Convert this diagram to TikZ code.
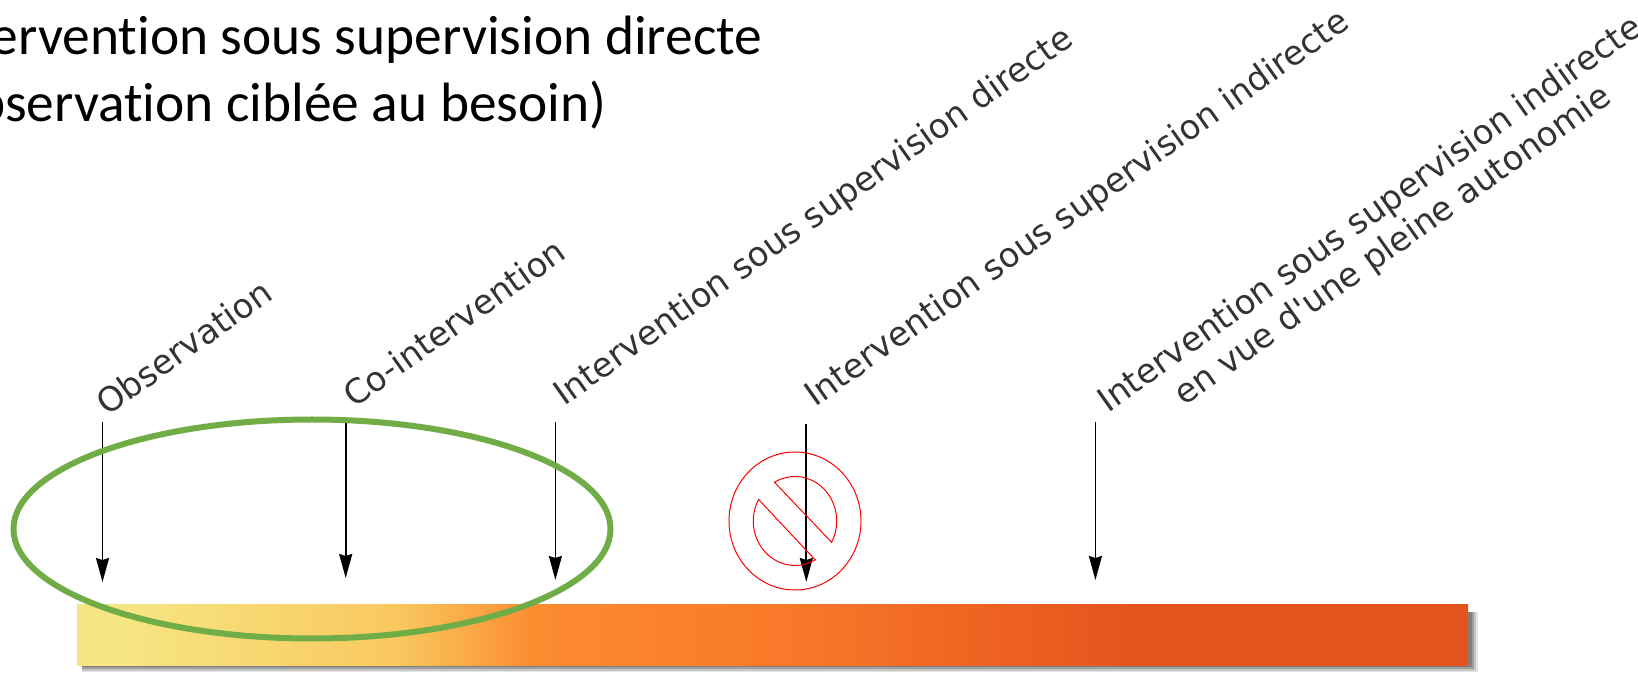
\documentclass[tikz,border=0pt]{standalone}
\usepackage{fontspec}
\setmainfont[Ligatures=NoCommon]{Carlito}
\newfontfamily\labelfont{DejaVu Sans}
\usetikzlibrary{arrows.meta,shapes.geometric}
\definecolor{c0}{HTML}{F6E683}
\definecolor{c1}{HTML}{F9C85F}
\definecolor{c2}{HTML}{FC8B30}
\definecolor{c3}{HTML}{F97A2A}
\definecolor{c4}{HTML}{E5531C}
\definecolor{ringgreen}{HTML}{70AD47}
\pgfdeclarehorizontalshading{barshade}{100bp}{color(0bp)=(c0);color(25bp)=(c0);color(26.5bp)=(c0);color(36.5bp)=(c1);color(41.5bp)=(c2);color(50bp)=(c3);color(63bp)=(c4);color(75bp)=(c4);color(100bp)=(c4)}
\tikzset{
  steplabel/.style={font=\labelfont\fontsize{33.8}{38.5}\selectfont,text=black!80,rotate=35.4,anchor=base west,inner sep=0pt,align=center},
  headline/.style={font=\fontsize{55.4}{66}\selectfont,text=black,anchor=base west,inner sep=0pt},
  droparrow/.style={draw=black,line width=1.8pt,-{Stealth[length=24pt,width=13pt,inset=2pt]}},
  redline/.style={draw=red,line width=1pt},
}
\begin{document}
\begin{tikzpicture}[x=1pt,y=1pt]
\useasboundingbox (0,0) rectangle (1638,672);
\clip (0,0) rectangle (1638,672);
% head
\node[headline] (h1) at (-70,617) {Intervention sous supervision directe};
\node[headline] (h2) at (-70,550) {(observation ciblée au besoin)};
% bar shadow
\fill[black!10] (82,0) rectangle (1478,60);
\fill[black!22] (82,1) rectangle (1476,60);
\fill[black!38] (82,3) rectangle (1474,60);
\fill[black!50] (82,5) rectangle (1472,60);
\shade[shading=barshade] (77,7) rectangle (1468,67);
% labels
\node[steplabel] (l1) at (107,255) {Observation};
\node[steplabel] (l2) at (354,263) {Co-intervention};
\node[steplabel] (l3) at (564,265) {Intervention sous supervision directe};
\node[steplabel] (l4) at (815,264) {Intervention sous supervision indirecte};
\node[steplabel,anchor=center] (l5) at (1382,441) {Intervention sous supervision indirecte\\en vue d'une pleine autonomie};
% arrows
\coordinate (a1s) at (102.5,250); \coordinate (a1e) at (102.5,90);
\coordinate (a2s) at (345.7,250); \coordinate (a2e) at (345.7,94);
\coordinate (a3s) at (555.4,250); \coordinate (a3e) at (555.4,92);
\coordinate (a4s) at (806.3,248); \coordinate (a4e) at (806.3,90);
\coordinate (a5s) at (1095.4,250); \coordinate (a5e) at (1095.4,92);
\draw[droparrow] (a1s) -- (a1e);
\draw[droparrow] (a2s) -- (a2e);
\draw[droparrow] (a3s) -- (a3e);
\draw[droparrow] (a4s) -- (a4e);
\draw[droparrow] (a5s) -- (a5e);
% green ellipse
\node[draw=ringgreen,line width=6pt,shape=ellipse,minimum width=597pt,minimum height=219pt,inner sep=0pt] (ring) at (312,143) {};
% prohibition sign
\draw[redline] (795,151) ellipse [x radius=66,y radius=69];
\draw[redline] (795,151) ++(119.5:41.7 and 44.5) arc [start angle=119.5,end angle=-28.6,x radius=41.7,y radius=44.5] -- cycle;
\draw[redline] (795,151) ++(151:41.7 and 44.5) arc [start angle=151,end angle=299,x radius=41.7,y radius=44.5] -- cycle;
\end{tikzpicture}
\end{document}
